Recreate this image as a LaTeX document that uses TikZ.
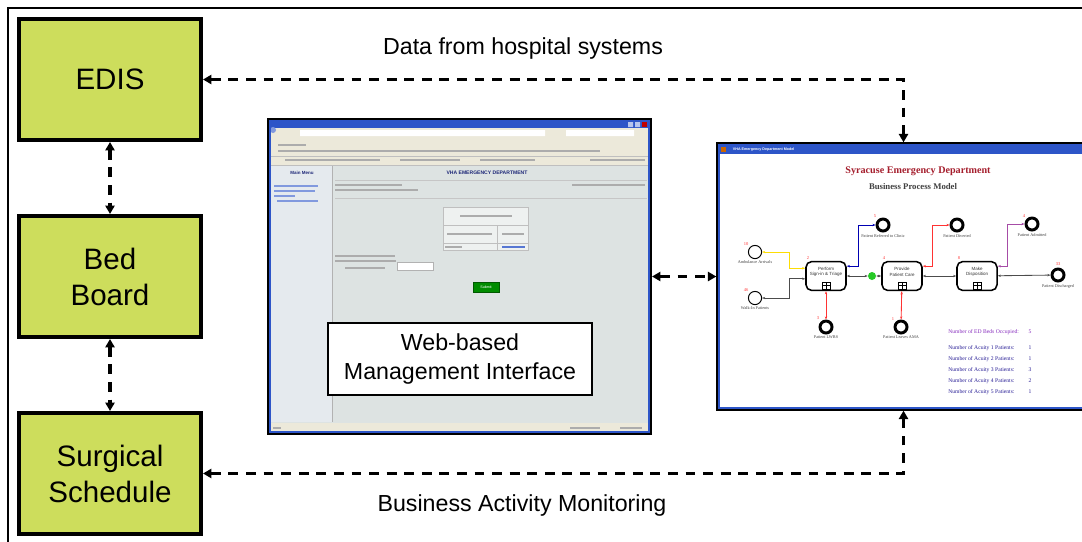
\documentclass[tikz,border=0pt]{standalone}
\usepackage{fontspec}
\setmainfont{Liberation Sans}
\newfontfamily\shotserif{Liberation Serif}
\usepackage{tikz}
\usetikzlibrary{positioning,arrows.meta,calc}

\definecolor{sysgreen}{RGB}{205,221,92}
\definecolor{winblue}{RGB}{45,85,200}
\definecolor{panegray}{RGB}{221,227,226}
\definecolor{menugray}{RGB}{229,234,238}
\definecolor{barbeige}{RGB}{236,233,218}
\definecolor{navytext}{RGB}{30,40,120}
\definecolor{titlered}{RGB}{165,30,45}
\definecolor{statblue}{RGB}{40,30,150}
\definecolor{statpurple}{RGB}{135,45,190}

\tikzset{
  sysbox/.style={draw, line width=2.8pt, fill=sysgreen, minimum width=4.55cm,
    minimum height=3.025cm, align=center, font=\fontsize{21}{25.6}\selectfont},
  flow/.style={line width=2.2pt, dash pattern=on 7pt off 5.5pt,
    {Triangle[length=6pt,width=6.5pt]}-{Triangle[length=6pt,width=6.5pt]}},
  biglabel/.style={font=\fontsize{16.5}{21.3}\selectfont, align=center},
  scribble/.style={gray!65, line width=1pt},
  task/.style={draw, rounded corners=4pt, line width=1.1pt, fill=white,
    minimum width=1cm, minimum height=0.72cm, inner sep=0pt},
  tasktext/.style={font=\fontsize{3.2}{3.9}\selectfont, align=center, text=black!80},
  startev/.style={circle, draw, line width=0.7pt, minimum size=0.33cm, inner sep=0pt, fill=white},
  endev/.style={circle, draw, line width=2.1pt, minimum size=0.3cm, inner sep=0pt, fill=white},
  evlabel/.style={font=\shotserif\fontsize{3}{3.5}\selectfont, text=black!75, inner sep=1pt},
  evcount/.style={font=\shotserif\fontsize{3.2}{3.6}\selectfont, text=red!80, inner sep=1pt},
  bpmflow/.style={line width=0.6pt, {Stealth[length=2.2pt]}-{Stealth[length=2.2pt]}},
  stat/.style={font=\shotserif\fontsize{4}{4.5}\selectfont, text=statblue, inner sep=0pt},
}

\newcommand{\subicon}[1]{%
  \draw[line width=0.35pt] ($(#1.south)+(-4,-9)$) rectangle ($(#1.south)+(4,-2)$)
    ($(#1.south)+(0,-9)$) -- ($(#1.south)+(0,-2)$)
    ($(#1.south)+(-4,-5.5)$) -- ($(#1.south)+(4,-5.5)$);}

\begin{document}
\begin{tikzpicture}[x=0.025cm, y=-0.025cm, node distance=1.8cm]
  \useasboundingbox (0,0) rectangle (1082,541);
  \clip (0,0) rectangle (1082,541);
  \draw[line width=1.1pt] (8,560) |- (1100,8);

  % hospital systems
  \node[sysbox] (edis) at (110,79.5) {EDIS};
  \node[sysbox, below=of edis] (bedboard) {Bed\\Board};
  \node[sysbox, below=of bedboard] (surgical) {Surgical\\Schedule};

  % web interface screenshot
  \node[draw, line width=2.8pt, fill=panegray, minimum width=9.525cm,
    minimum height=7.825cm, inner sep=0pt] (web) at (459.5,276.5) {};
  \fill[winblue] (270,121) rectangle (649,128);
  \fill[red!75!black] (642,122) rectangle (647,127);
  \fill[winblue!35] (635,122) rectangle (640,127) (628,122) rectangle (633,127);
  \fill[barbeige] (270,128) rectangle (649,165);
  \fill[white] (300,130) rectangle (545,136) (566,130) rectangle (634,136);
  \fill[winblue!60] (273,130) circle (3);
  \draw[gray!50] (270,156) -- (649,156) (270,165) -- (649,165);
  \draw[scribble] (278,145) -- (306,145) (278,151) -- (600,151)
    (285,160) -- (380,160) (400,160) -- (460,160) (480,160) -- (535,160) (590,160) -- (645,160);
  \fill[menugray] (271,166) rectangle (332,422);
  \draw[gray!60] (332,166) -- (332,422);
  \node[font=\bfseries\fontsize{3.2}{4}\selectfont, text=navytext] (mainmenu) at (302,173) {Main Menu};
  \draw[scribble, winblue!60] (274,186) -- (318,186) (274,191) -- (315,191)
    (274,196) -- (295,196) (277,201) -- (318,201);
  \node[font=\bfseries\fontsize{3.6}{4}\selectfont, text=navytext] (vhahead) at (487,173) {VHA EMERGENCY DEPARTMENT};
  \draw[gray!45] (335,180) -- (647,180) (335,198) -- (647,198);
  \draw[scribble] (335,185) -- (402,185) (335,190) -- (418,190) (572,185) -- (645,185);
  \draw[gray!50, fill=panegray!50!white] (443,207) rectangle (528,250);
  \draw[gray!50] (443,225) -- (528,225) (443,243) -- (528,243) (497,225) -- (497,250);
  \draw[scribble] (460,216) -- (512,216) (447,234) -- (492,234) (502,234) -- (524,234) (445,247) -- (462,247);
  \draw[scribble, winblue!80] (502,247) -- (525,247);
  \draw[scribble] (335,256) -- (395,256) (335,261) -- (396,261) (345,268) -- (385,268);
  \draw[gray!60, fill=white] (397,262) rectangle (433,270);
  \node[fill=green!55!black, draw=green!35!black, minimum width=0.65cm, minimum height=0.25cm,
    inner sep=0pt, text=white, font=\fontsize{2.6}{3}\selectfont] (submitbtn) at (486,287) {Submit};
  \fill[barbeige] (270,423) rectangle (649,432);
  \draw[scribble] (273,428) -- (281,428) (570,428) -- (600,428) (620,428) -- (642,428);
  \draw[winblue, line width=0.8pt] (270,121) rectangle (649,432);
  \node[draw, line width=1.2pt, fill=white, minimum width=6.6cm, minimum height=1.8cm,
    biglabel] (webtext) at (460,359) {Web-based\\Management Interface};

  % business process model screenshot
  \node[draw, line width=1.6pt, fill=white, minimum width=9.3cm,
    minimum height=6.65cm, inner sep=0pt] (bpm) at (903.5,276.5) {};
  \fill[winblue] (719,145) rectangle (1090,154);
  \fill[orange!80!black] (721,147) rectangle (726,152);
  \node[anchor=west, text=white, font=\bfseries\fontsize{2.6}{3}\selectfont] (bpmbar) at (728,149.5) {VHA Emergency Department Model};
  \draw[winblue, line width=1pt] (719,145) rectangle (1090,408);
  \node[text=titlered, font=\shotserif\bfseries\fontsize{7.2}{8}\selectfont] (bpmtitle) at (918,171) {Syracuse Emergency Department};
  \node[text=black!75, font=\shotserif\bfseries\fontsize{6.2}{7}\selectfont] (bpmsub) at (913,187) {Business Process Model};

  \node[task, label={[tasktext, yshift=2.8pt]center:Perform\\Sign-in \& Triage},
    label={[evcount]above left:2}] (perform) at (826,276) {};
  \node[task, label={[tasktext, yshift=2.8pt]center:Provide\\Patient Care},
    label={[evcount]above left:4}] (provide) at (902,276) {};
  \node[task, label={[tasktext, yshift=2.8pt]center:Make\\Disposition},
    label={[evcount]above left:8}] (decide) at (977,276) {};
  \subicon{perform}
  \subicon{provide}
  \subicon{decide}
  \node[circle, fill=green!75!black!85, minimum size=0.2cm, inner sep=0pt] (gate) at (872,276) {};

  \node[startev, label={[evlabel]below:Ambulance Arrivals}, label={[evcount]above left:10}] (amb) at (755,252) {};
  \node[startev, label={[evlabel]below:Walk-In Patients}, label={[evcount]above left:46}] (walkin) at (755,298) {};
  \node[endev, label={[evlabel]below:Patient Referred to Clinic}, label={[evcount]above left:5}] (referred) at (883,225) {};
  \node[endev, label={[evlabel]below:Patient Diverted}] (diverted) at (957,225) {};
  \node[endev, label={[evlabel]below:Patient Admitted}, label={[evcount]above left:4}] (admitted) at (1032,224) {};
  \node[endev, label={[evlabel]below:Patient Discharged}, label={[evcount]above:33}] (discharged) at (1058,275) {};
  \node[endev, label={[evlabel]below:Patient LWBS}, label={[evcount]above left:3}] (lwbs) at (826,327) {};
  \node[endev, label={[evlabel]below:Patient Leaves AMA}, label={[evcount]above left:1}] (ama) at (901,327) {};

  \draw[bpmflow, yellow!80!orange] (amb.east) -- ++(27,0) |- ([yshift=5.5pt]perform.west);
  \draw[bpmflow, black!70] (walkin.east) -- ++(27,0) |- ([yshift=-2pt]perform.west);
  \draw[bpmflow, blue!70!black] ([yshift=7pt]perform.east) -- ++(12,0) |- (referred);
  \draw[bpmflow, red!80] ([yshift=7pt]provide.east) -- ++(10,0) |- (diverted);
  \draw[bpmflow, violet!70] ([yshift=7pt]decide.east) -- ++(10,0) |- (admitted);
  \draw[bpmflow, black!70] (perform) -- (gate);
  \draw[bpmflow, black!70] (gate) -- (provide);
  \draw[bpmflow, black!70] (provide) -- (decide);
  \draw[bpmflow, black!70] (decide) -- (discharged);
  \draw[bpmflow, red!80] (perform) -- (lwbs);
  \draw[bpmflow, red!80] (provide) -- (ama);

  \node[stat, anchor=west, text=statpurple] (bedsocc) at (948,332) {Number of ED Beds Occupied:};
  \node[stat, text=statpurple] (bedsval) at (1030,332) {5};
  \foreach \k/\v in {1/1,2/1,3/3,4/2,5/1} {
    \node[stat, anchor=west] (acuity\k) at (948,337+11*\k) {Number of Acuity \k\ Patients:};
    \node[stat] (acuityval\k) at (1030,337+11*\k) {\v};
  }

  % data exchange
  \draw[flow] (edis) -- (bedboard);
  \draw[flow] (bedboard) -- (surgical);
  \draw[flow] (edis.east) -| (bpm.north);
  \draw[flow] (surgical.east) -| (bpm.south);
  \draw[flow] (web.east) -- (bpm.west);
  \node[biglabel] (datalabel) at (523,48) {Data from hospital systems};
  \node[biglabel] (bamlabel) at (522,505) {Business Activity Monitoring};
\end{tikzpicture}
\end{document}
